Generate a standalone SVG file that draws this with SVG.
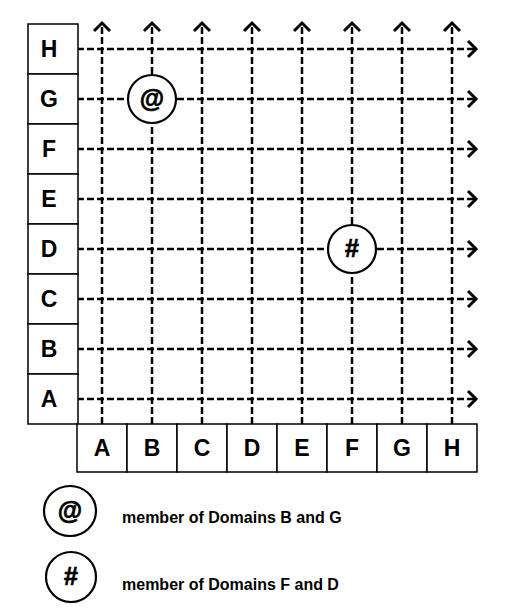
<svg xmlns="http://www.w3.org/2000/svg" width="508" height="612" viewBox="0 0 508 612">
<defs>
<style>
.cell{fill:#fff;stroke:#000;stroke-width:1.5}
.lbl{font-family:"Liberation Sans",Arial,sans-serif;font-weight:bold;font-size:23px;text-anchor:middle;fill:#000}
.grid{stroke:#000;stroke-width:2.5;stroke-dasharray:7 3;fill:none}
.mem{fill:#fff;stroke:#000;stroke-width:2.2}
.sym{font-family:"Liberation Sans",Arial,sans-serif;font-weight:bold;font-size:25px;text-anchor:middle;fill:#000;stroke:#000;stroke-width:0.7}
.leg{font-family:"Liberation Sans",Arial,sans-serif;font-weight:bold;font-size:16px;fill:#000}
</style>
<marker id="chev" markerUnits="userSpaceOnUse" viewBox="-12 -12 24 24" markerWidth="24" markerHeight="24" refX="0" refY="0" orient="auto" overflow="visible">
<path d="M-8,-8 L0,0 L-8,8" fill="none" stroke="#000" stroke-width="3" stroke-dasharray="none"/>
</marker>
</defs>
<rect width="508" height="612" fill="#fff"/>
<g id="connectors">
<line class="grid" x1="102" y1="424" x2="102" y2="23" marker-end="url(#chev)"/>
<line class="grid" x1="152" y1="424" x2="152" y2="23" marker-end="url(#chev)"/>
<line class="grid" x1="202" y1="424" x2="202" y2="23" marker-end="url(#chev)"/>
<line class="grid" x1="252" y1="424" x2="252" y2="23" marker-end="url(#chev)"/>
<line class="grid" x1="302" y1="424" x2="302" y2="23" marker-end="url(#chev)"/>
<line class="grid" x1="352" y1="424" x2="352" y2="23" marker-end="url(#chev)"/>
<line class="grid" x1="402" y1="424" x2="402" y2="23" marker-end="url(#chev)"/>
<line class="grid" x1="452" y1="424" x2="452" y2="23" marker-end="url(#chev)"/>
<line class="grid" x1="77" y1="49" x2="476" y2="49" marker-end="url(#chev)"/>
<line class="grid" x1="77" y1="99" x2="476" y2="99" marker-end="url(#chev)"/>
<line class="grid" x1="77" y1="149" x2="476" y2="149" marker-end="url(#chev)"/>
<line class="grid" x1="77" y1="199" x2="476" y2="199" marker-end="url(#chev)"/>
<line class="grid" x1="77" y1="249" x2="476" y2="249" marker-end="url(#chev)"/>
<line class="grid" x1="77" y1="299" x2="476" y2="299" marker-end="url(#chev)"/>
<line class="grid" x1="77" y1="349" x2="476" y2="349" marker-end="url(#chev)"/>
<line class="grid" x1="77" y1="399" x2="476" y2="399" marker-end="url(#chev)"/>
</g>
<g id="row-H"><rect class="cell" x="28" y="24" width="50" height="50"/><text class="lbl" x="49" y="57">H</text></g>
<g id="row-G"><rect class="cell" x="28" y="74" width="50" height="50"/><text class="lbl" x="49" y="107">G</text></g>
<g id="row-F"><rect class="cell" x="28" y="124" width="50" height="50"/><text class="lbl" x="49" y="157">F</text></g>
<g id="row-E"><rect class="cell" x="28" y="174" width="50" height="50"/><text class="lbl" x="49" y="207">E</text></g>
<g id="row-D"><rect class="cell" x="28" y="224" width="50" height="50"/><text class="lbl" x="49" y="257">D</text></g>
<g id="row-C"><rect class="cell" x="28" y="274" width="50" height="50"/><text class="lbl" x="49" y="307">C</text></g>
<g id="row-B"><rect class="cell" x="28" y="324" width="50" height="50"/><text class="lbl" x="49" y="357">B</text></g>
<g id="row-A"><rect class="cell" x="28" y="374" width="50" height="50"/><text class="lbl" x="49" y="407">A</text></g>
<g id="col-A"><rect class="cell" x="77" y="424" width="50" height="48"/><text class="lbl" x="102" y="456">A</text></g>
<g id="col-B"><rect class="cell" x="127" y="424" width="50" height="48"/><text class="lbl" x="152" y="456">B</text></g>
<g id="col-C"><rect class="cell" x="177" y="424" width="50" height="48"/><text class="lbl" x="202" y="456">C</text></g>
<g id="col-D"><rect class="cell" x="227" y="424" width="50" height="48"/><text class="lbl" x="252" y="456">D</text></g>
<g id="col-E"><rect class="cell" x="277" y="424" width="50" height="48"/><text class="lbl" x="302" y="456">E</text></g>
<g id="col-F"><rect class="cell" x="327" y="424" width="50" height="48"/><text class="lbl" x="352" y="456">F</text></g>
<g id="col-G"><rect class="cell" x="377" y="424" width="50" height="48"/><text class="lbl" x="402" y="456">G</text></g>
<g id="col-H"><rect class="cell" x="427" y="424" width="50" height="48"/><text class="lbl" x="452" y="456">H</text></g>
<g id="member-at"><circle class="mem" cx="152" cy="99" r="24"/><text class="sym" x="152" y="107">@</text></g>
<g id="member-hash"><circle class="mem" cx="352" cy="249" r="24"/><text class="sym" x="352" y="257">#</text></g>
<g id="legend-at"><ellipse class="mem" cx="70" cy="511" rx="26" ry="25"/><text class="sym" x="70" y="519">@</text><text class="leg" x="122" y="523">member of Domains B and G</text></g>
<g id="legend-hash"><circle class="mem" cx="71" cy="577" r="25"/><text class="sym" x="71" y="585">#</text><text class="leg" x="122" y="590">member of Domains F and D</text></g>
</svg>
